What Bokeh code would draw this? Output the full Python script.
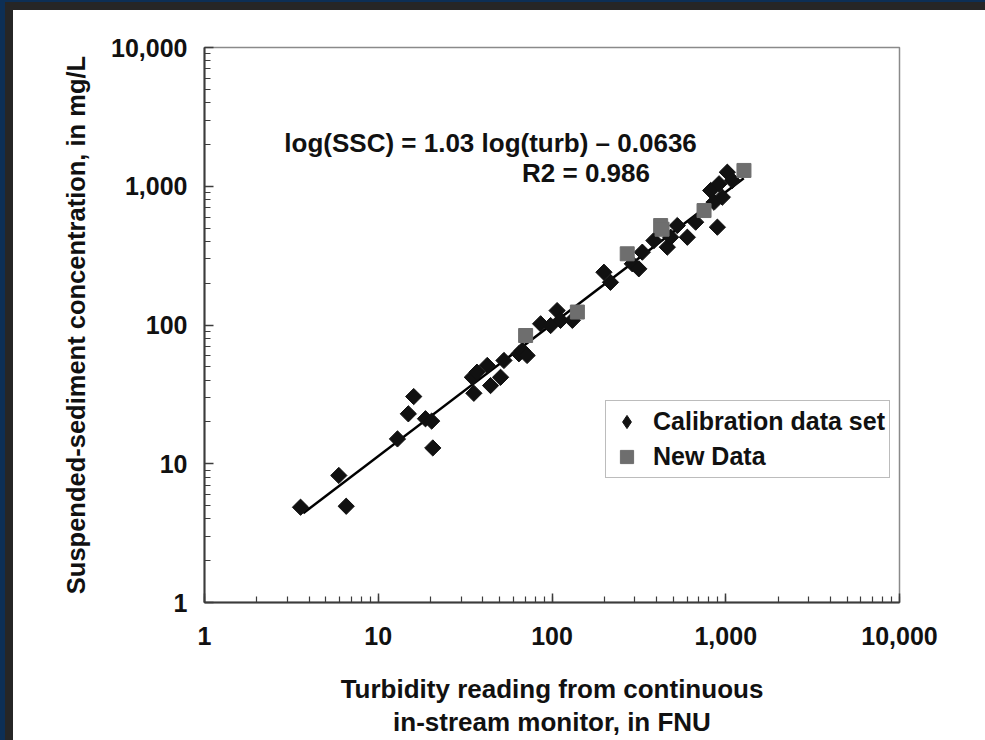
from bokeh.plotting import figure
from bokeh.models import Range1d, NumeralTickFormatter, Legend, LegendItem, Label, ColumnDataSource
from bokeh.embed import file_html
from bokeh.resources import INLINE
import math
import re

# Calibration data set (turbidity FNU, SSC mg/L)
cal_turb = [3.57, 5.93, 6.54, 12.9, 14.9, 16.0, 18.7, 20.3, 20.6, 34.8, 37.0, 35.5,
            42.4, 44.3, 50.6, 52.9, 64.5, 67.4, 71.9, 86.0, 98.2, 107, 112, 131,
            199, 217, 290, 316, 331, 386, 461, 482, 526, 601, 671, 819, 856, 895,
            915, 956, 1021, 1091]
cal_ssc = [4.86, 8.23, 4.94, 15.1, 22.9, 30.5, 21.1, 20.3, 13.0, 42.0, 45.7, 32.2,
           51.1, 36.6, 42.0, 55.5, 62.0, 65.5, 60.3, 102, 99.1, 127, 108, 108,
           240, 203, 276, 254, 335, 406, 364, 429, 521, 429, 551, 932, 767, 507,
           1042, 834, 1262, 1099]

# New data
new_turb = [70.5, 140, 271, 422, 430, 750, 1273]
new_ssc = [84.0, 124, 326, 521, 490, 668, 1300]

# Regression line as drawn
fit_turb = [3.7, 1270]
fit_ssc = [4.4, 1140]

x_title = "Turbidity reading from continuous\nin-stream monitor, in FNU"
y_title = "Suspended-sediment concentration, in mg/L"
eq_lines = ["log(SSC) = 1.03 log(turb) \u2013 0.0636", "R2 = 0.986"]
legend_labels = ["Calibration data set", "New Data"]

FONT = "Liberation Sans"

p = figure(width=985, height=740, x_axis_type="log", y_axis_type="log",
           x_range=Range1d(1, 10000), y_range=Range1d(1, 10000),
           output_backend="svg", toolbar_location=None,
           min_border_left=204, min_border_right=86, min_border_top=47, min_border_bottom=138)
p.background_fill_color = "white"
p.border_fill_color = None
p.styles = {"background-color": "white",
            "box-shadow": "inset 5px 2px 0 #0d2f55, inset 13px 10px 0 #262626"}
p.outline_line_color = "#8a8a8a"
p.outline_line_width = 1.5
p.xgrid.visible = False
p.ygrid.visible = False

for ax in (p.xaxis[0], p.yaxis[0]):
    ax.formatter = NumeralTickFormatter(format="0,0")
    ax.axis_line_color = "#3c3c3c"
    ax.axis_line_width = 2
    ax.major_tick_line_color = "#3c3c3c"
    ax.minor_tick_line_color = "#3c3c3c"
    ax.major_tick_line_width = 1.5
    ax.minor_tick_line_width = 1.2
    ax.major_tick_in = 9
    ax.major_tick_out = 0
    ax.minor_tick_in = 6
    ax.minor_tick_out = 0
    ax.major_label_text_font = FONT
    ax.major_label_text_font_style = "bold"
    ax.major_label_text_font_size = "25px"
    ax.major_label_text_color = "#111111"
    ax.axis_label_text_font = FONT
    ax.axis_label_text_font_style = "bold"
    ax.axis_label_text_color = "#111111"

p.xaxis.major_label_standoff = 24
p.yaxis.major_label_standoff = 17
p.yaxis.axis_label = y_title
p.yaxis.axis_label_text_font_size = "25.5px"
p.yaxis.axis_label_standoff = 18
p.xaxis.axis_label = x_title
p.xaxis.axis_label_text_font_size = "26px"
p.xaxis.axis_label_text_line_height = 1.1
p.xaxis.axis_label_standoff = 26

p.line(fit_turb, fit_ssc, line_color="black", line_width=2.5)

cal_src = ColumnDataSource(dict(x=cal_turb, y=cal_ssc))
new_src = ColumnDataSource(dict(x=new_turb, y=new_ssc))
# diamond legend key, hidden under the calibration markers (legend glyphs are drawn unrotated)
r_cal_key = p.scatter("x", "y", source=cal_src, marker="diamond", size=9,
                      fill_color="#111111", line_color="#111111")
r_cal = p.scatter("x", "y", source=cal_src, marker="square", size=11.5, angle=math.pi / 4,
                  fill_color="#111111", line_color="#111111")
r_new = p.scatter("x", "y", source=new_src, marker="square", size=14,
                  fill_color="#6e6e6e", line_color="#6e6e6e")

legend = Legend(items=[LegendItem(label=legend_labels[0], renderers=[r_cal_key]),
                       LegendItem(label=legend_labels[1], renderers=[r_new])],
                location=(401, 124))
legend.label_text_font = FONT
legend.label_text_font_style = "bold"
legend.label_text_font_size = "25px"
legend.label_text_color = "#111111"
legend.border_line_color = "#7a7a7a"
legend.border_line_width = 1.5
legend.background_fill_alpha = 1
legend.glyph_width = 33
legend.glyph_height = 33
legend.label_height = 33
legend.spacing = 2
legend.padding = 4
legend.margin = 0
legend.label_standoff = 10
p.add_layout(legend)

def add_text(x, y, txt):
    p.add_layout(Label(x=x, y=y, text=txt, text_align="center", text_baseline="middle",
                       text_font=FONT, text_font_style="bold", text_font_size="26px",
                       text_color="#111111"))

# equation text
add_text(44.3, 2033, eq_lines[0])
add_text(157, 1256, eq_lines[1])

html = file_html(p, INLINE)
# keep the page from showing a scrollbar
html = html.replace("</head>", "<style>html, body { overflow: hidden; margin: 0; }</style></head>", 1)
html = re.sub(r"<body[^>]*>", '<body style="overflow:hidden; margin:0;">', html, count=1)
open("out.html", "w").write(html)
